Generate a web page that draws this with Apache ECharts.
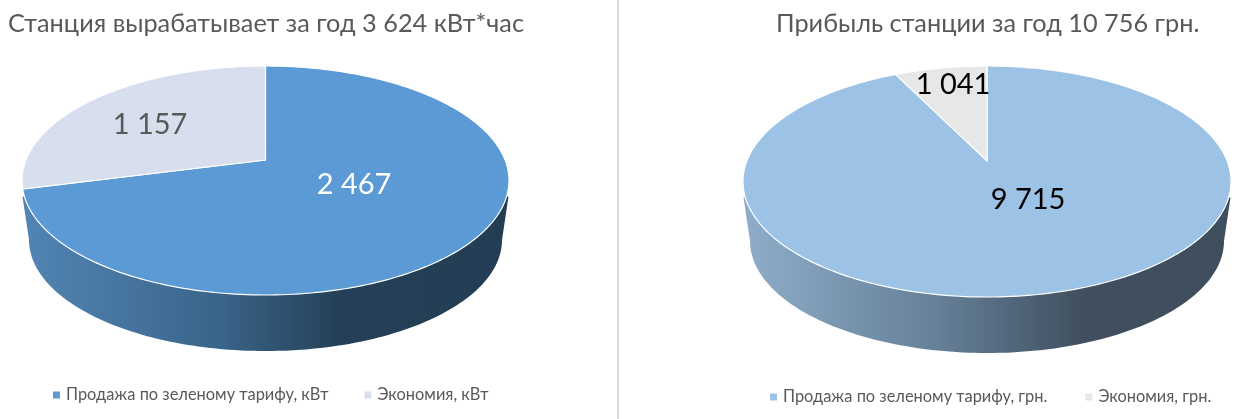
<!DOCTYPE html>
<html><head><meta charset="utf-8">
<style>html,body{margin:0;padding:0;background:#fff}#c{width:1243px;height:419px}</style>
<script src="https://cdn.jsdelivr.net/npm/echarts@6/dist/echarts.min.js"></script>
</head><body><div id="c"></div>
<script>
// Data
const titleLeft = 'Станция вырабатывает за год 3 624 кВт*час';
const titleRight = 'Прибыль станции за год 10 756 грн.';
const categoriesLeft = ['Продажа по зеленому тарифу, кВт', 'Экономия, кВт'];
const valuesLeft = [2467, 1157];
const categoriesRight = ['Продажа по зеленому тарифу, грн.', 'Экономия, грн.'];
const valuesRight = [9715, 1041];

// Styling and layout
const FONT = 'Lato, "Noto Sans", sans-serif';
const pieLeft = {
  cx: 265.5, cy: 180.5, rx: 243.5, ry: 114.5, warp: 0.687,
  baseCx: 265.5, baseCy: 240, baseRx: 236.5, baseRy: 111,
  colors: ['#5b9ad5', '#d7dfef'], labelColors: ['#ffffff', '#595959'],
  labelPos: [[354, 185], [150, 125]],
  wall: [[0, '#5285b4'], [0.4, '#3a658a'], [0.66, '#243f57'], [1, '#233d54']]
};
const pieRight = {
  cx: 987, cy: 181.5, rx: 244, ry: 115.5, warp: 0.62,
  baseCx: 987, baseCy: 241, baseRx: 237, baseRy: 112,
  colors: ['#9cc2e5', '#e7e7e7'], labelColors: ['#000000', '#000000'],
  labelPos: [[1028, 200], [953, 85]],
  wall: [[0, '#8fadca'], [0.4, '#657f98'], [0.7, '#3f4f5f'], [1, '#3e4e5d']]
};

const fmt = v => String(v).replace(/\B(?=(\d{3})+$)/g, ' ');

function warpAngle(t, k) {
  if (t <= Math.PI) return 2 * Math.atan(k * Math.tan(t / 2));
  const m = 2 * Math.PI - t;
  return 2 * Math.PI - 2 * Math.atan(k * Math.tan(m / 2));
}

function makeSeries(names, values, pie) {
  const total = values.reduce((a, b) => a + b, 0);
  let acc = 0;
  return values.map((v, i) => {
    const start = acc / total, end = (acc + v) / total;
    acc += v;
    return {
      type: 'custom', name: names[i], coordinateSystem: 'none', silent: true,
      animation: false, itemStyle: { color: pie.colors[i] }, data: [[v]],
      z: 2 + i,
      renderItem: function () {
        const children = [];
        if (i === 0) {
          const pts = [];
          const steps = 120;
          pts.push([pie.cx + pie.rx - 0.5, pie.cy + 16]);
          for (let s = 0; s <= steps; s++) {
            const a = Math.PI * s / steps;
            pts.push([pie.baseCx + pie.baseRx * Math.cos(a), pie.baseCy + pie.baseRy * Math.sin(a)]);
          }
          pts.push([pie.cx - pie.rx + 0.5, pie.cy + 16]);
          pts.push([pie.cx, pie.cy]);
          children.push({
            type: 'polygon', shape: { points: pts },
            style: { fill: { type: 'linear', x: 0, y: 0, x2: 1, y2: 0, global: false,
              colorStops: pie.wall.map(c => ({ offset: c[0], color: c[1] })) } }
          });
        }
        const pts = [[pie.cx, pie.cy - 20.5 * pie.ry / 114.5]];
        const a0 = start * 2 * Math.PI, a1 = end * 2 * Math.PI;
        const n = Math.max(4, Math.round((a1 - a0) * 60));
        for (let s = 0; s <= n; s++) {
          const phi = warpAngle(a0 + (a1 - a0) * s / n, pie.warp);
          pts.push([pie.cx + pie.rx * Math.sin(phi), pie.cy - pie.ry * Math.cos(phi)]);
        }
        children.push({
          type: 'polygon', shape: { points: pts },
          style: { fill: pie.colors[i], stroke: '#ffffff', lineWidth: 1.2 }
        });
        children.push({
          type: 'text', z2: 10,
          style: { text: fmt(v), x: pie.labelPos[i][0], y: pie.labelPos[i][1], fill: pie.labelColors[i],
            font: '29px ' + FONT, align: 'center', verticalAlign: 'middle' }
        });
        return { type: 'group', children };
      }
    };
  });
}

const legendBase = {
  orient: 'horizontal', icon: 'rect', itemWidth: 7, itemHeight: 7,
  selectedMode: false, textStyle: { fontFamily: FONT, fontSize: 16.4, color: '#595959', padding: [0, 0, 0, 1] }
};

const chart = echarts.init(document.getElementById('c'), null, { renderer: 'canvas' });
chart.setOption({
  backgroundColor: '#ffffff',
  animation: false,
  title: [
    { text: titleLeft, left: 3, top: 6, textStyle: { fontFamily: FONT, fontSize: 25.3, fontWeight: 'normal', color: '#595959' } },
    { text: titleRight, left: 771, top: 6, textStyle: { fontFamily: FONT, fontSize: 25.3, fontWeight: 'normal', color: '#595959' } }
  ],
  legend: [
    Object.assign({}, legendBase, { data: categoriesLeft, left: 48, top: 382, itemGap: 36 }),
    Object.assign({}, legendBase, { data: categoriesRight, left: 765, top: 384, itemGap: 38 })
  ],
  graphic: [{ type: 'rect', shape: { x: 617, y: 0, width: 2, height: 419 }, style: { fill: '#d9d9d9' }, silent: true }],
  series: makeSeries(categoriesLeft, valuesLeft, pieLeft).concat(makeSeries(categoriesRight, valuesRight, pieRight))
});
</script></body></html>
